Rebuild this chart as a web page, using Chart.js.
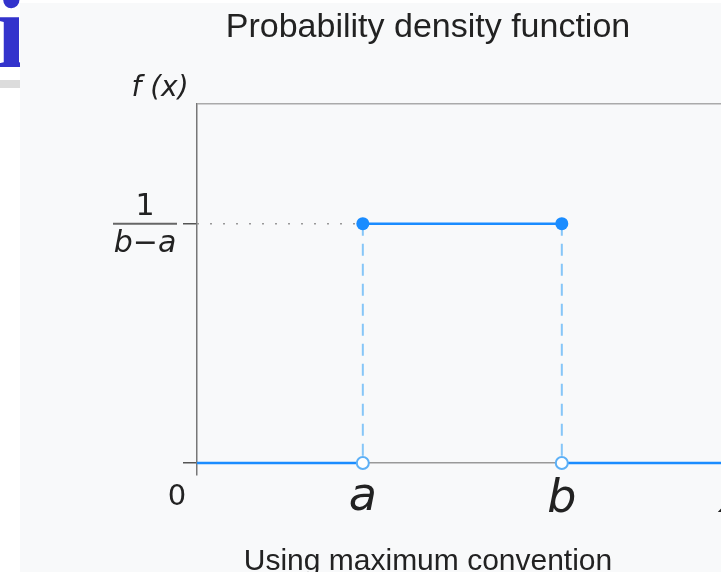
<!DOCTYPE html>
<html>
<head>
<meta charset="utf-8">
<script src="https://cdn.jsdelivr.net/npm/chart.js@4"></script>
<style>
  html, body { margin: 0; padding: 0; background: #fff; overflow: hidden; }
  #wrap { position: relative; width: 721px; height: 572px; overflow: hidden; }
  #glyph { position: absolute; left: -4px; top: -23px; font: bold 108px "Liberation Serif", serif; color: #3333cc; line-height: 1; }
  #rule { position: absolute; left: 0; top: 80px; width: 20px; height: 8px; background: #dcdcdc; }
  #panel { position: absolute; left: 20px; top: 3px; right: 0; bottom: 0; background: #f8f9fa; }
  #chart { position: absolute; left: 0; top: 0; }
</style>
</head>
<body>
<div id="wrap">
  <div id="glyph">i</div>
  <div id="rule"></div>
  <div id="panel"></div>
  <canvas id="chart" width="721" height="572"></canvas>
</div>
<script>
// positions of a and b on the x axis, and the density height 1/(b-a)
const xA = 5;
const xB = 11;
const xEnd = 16;
const hauteur = 1;

// the pdf itself: 0 before a, 1/(b-a) between a and b, 0 after b
const courbe = [
  { x: 0, y: 0 }, { x: xA, y: 0 }, { x: xA, y: null },
  { x: xA, y: hauteur }, { x: xB, y: hauteur }, { x: xB, y: null },
  { x: xB, y: 0 }, { x: xEnd, y: 0 }
];
const tirets = [
  { x: xA, y: hauteur }, { x: xA, y: 0 }, { x: xA, y: null },
  { x: xB, y: hauteur }, { x: xB, y: 0 }
];
const pointille = [{ x: 0, y: hauteur }, { x: xA, y: hauteur }];
const pleins = [{ x: xA, y: hauteur }, { x: xB, y: hauteur }];
const vides = [{ x: xA, y: 0 }, { x: xB, y: 0 }];
const yTicks = [0, hauteur, 1.5];

const bleu = '#1a8cff';
const bleuClair = '#86c6f8';

// text around the axes: title, f(x), fraction, 0, a, b, caption
const textes = {
  id: 'textes',
  afterDraw(chart) {
    const ctx = chart.ctx;
    const x = chart.scales.x, y = chart.scales.y;
    ctx.save();
    ctx.fillStyle = '#222';
    ctx.textBaseline = 'alphabetic';
    ctx.textAlign = 'center';

    ctx.font = '34px "Liberation Sans", Arial, sans-serif';
    ctx.fillText('Probability density function', 428, 37);
    ctx.font = '30px "Liberation Sans", Arial, sans-serif';
    ctx.fillText('Using maximum convention', 428, 570);

    ctx.font = 'italic 28px "DejaVu Sans", sans-serif';
    ctx.fillText('f (x)', 160, 96);

    // 1 / (b-a)
    const yh = y.getPixelForValue(hauteur);
    ctx.font = '30px "DejaVu Sans", sans-serif';
    ctx.fillText('1', 145, yh - 9);
    ctx.font = 'italic 30px "DejaVu Sans", sans-serif';
    ctx.fillText('b\u2212a', 145, yh + 28);
    ctx.strokeStyle = '#666';
    ctx.lineWidth = 2;
    ctx.beginPath();
    ctx.moveTo(113, yh);
    ctx.lineTo(177, yh);
    ctx.stroke();

    ctx.font = '29px "DejaVu Sans", sans-serif';
    ctx.fillText('0', 177, 505);

    ctx.font = 'italic 46px "DejaVu Sans", sans-serif';
    ctx.fillText('a', x.getPixelForValue(xA), 510);
    ctx.fillText('b', x.getPixelForValue(xB), 512);
    ctx.textAlign = 'left';
    ctx.fillText('x', 719, 512);
    ctx.restore();
  }
};

const ctx = document.getElementById('chart').getContext('2d');
new Chart(ctx, {
  type: 'line',
  data: {
    datasets: [
      {
        data: vides, showLine: false, order: 0,
        pointRadius: 6, pointBackgroundColor: '#fff',
        pointBorderColor: '#5db0f6', pointBorderWidth: 2
      },
      {
        data: pleins, showLine: false, order: 1,
        pointRadius: 6.5, pointBackgroundColor: bleu, pointBorderColor: bleu, pointBorderWidth: 0
      },
      {
        data: courbe, order: 2, borderColor: bleu, borderWidth: 2.5,
        pointRadius: 0, spanGaps: false
      },
      {
        data: tirets, order: 3, borderColor: bleuClair, borderWidth: 2,
        borderDash: [12, 8], pointRadius: 0, spanGaps: false
      },
      {
        data: pointille, order: 4, borderColor: '#999', borderWidth: 1.5,
        borderDash: [2, 11], pointRadius: 0
      }
    ]
  },
  options: {
    responsive: false,
    animation: false,
    layout: { autoPadding: false, padding: { left: 0, top: 104, right: 0, bottom: 97 } },
    plugins: { legend: { display: false }, tooltip: { enabled: false } },
    scales: {
      x: { type: 'linear', display: false, min: 0, max: 15.8 },
      y: {
        min: -0.05, max: 1.5,
        afterBuildTicks(s) { s.ticks = yTicks.map(v => ({ value: v })); },
        afterFit(s) { s.width = 197; },
        ticks: { display: false },
        border: { display: true, color: '#777', width: 1.5 },
        grid: {
          tickLength: 14,
          lineWidth: 1.5,
          color: c => c.tick.value === 0 ? '#999' : (c.tick.value === 1.5 ? '#aaa' : 'transparent'),
          tickColor: c => c.tick.value === 1.5 ? 'transparent' : '#555'
        }
      }
    }
  },
  plugins: [textes]
});
</script>
</body>
</html>
